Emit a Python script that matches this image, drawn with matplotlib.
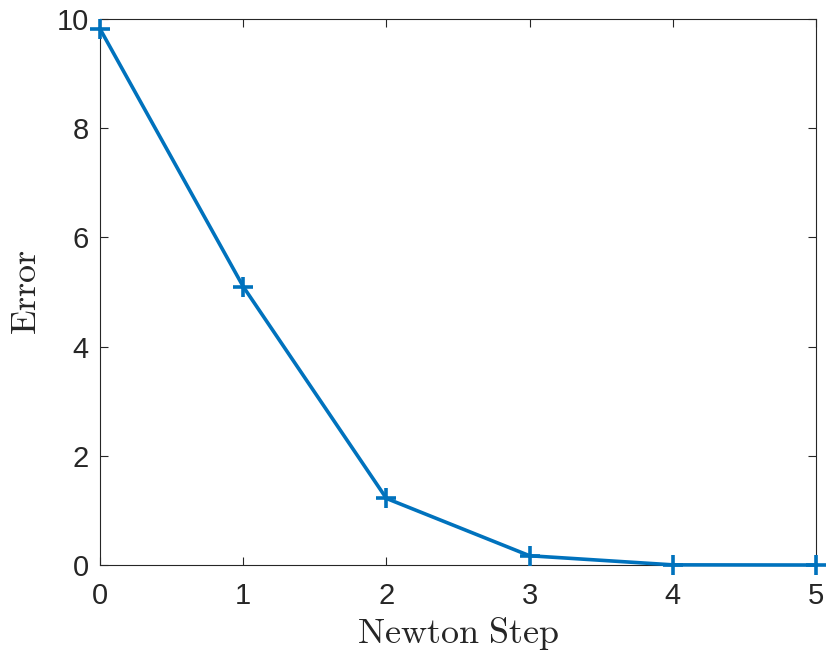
import matplotlib.pyplot as plt

plt.rcParams['mathtext.fontset'] = 'cm'
plt.rcParams['font.family'] = ['Liberation Sans', 'DejaVu Sans']

# Newton iteration error
steps = [0, 1, 2, 3, 4, 5]
errors = [9.82, 5.10, 1.22, 0.17, 0.003, 0.0]

fig = plt.figure(figsize=(8.27, 6.6), dpi=100)
ax = fig.add_axes([0.1209, 0.1439, 0.8658, 0.8273])

ax.plot(steps, errors, color='#0072BD', linewidth=2.6, marker='+',
        markersize=15, markeredgewidth=2.6, clip_on=False, zorder=3)

ax.set_xlim(0, 5)
ax.set_ylim(0, 10)
ax.set_xticks(range(0, 6))
ax.set_yticks(range(0, 11, 2))

gray = '#262626'
for s in ax.spines.values():
    s.set_color(gray)
    s.set_linewidth(0.8)
ax.tick_params(direction='in', length=6, width=0.8, colors=gray,
               labelsize=21, top=True, right=True)
ax.tick_params(axis='x', pad=12)
ax.tick_params(axis='y', pad=8)

ax.set_xlabel(r'$\mathrm{Newton\ Step}$', fontsize=26, color=gray, labelpad=4)
ax.set_ylabel(r'$\mathrm{Error}$', fontsize=26, color=gray, labelpad=9)

plt.savefig('out.png', dpi=100)
